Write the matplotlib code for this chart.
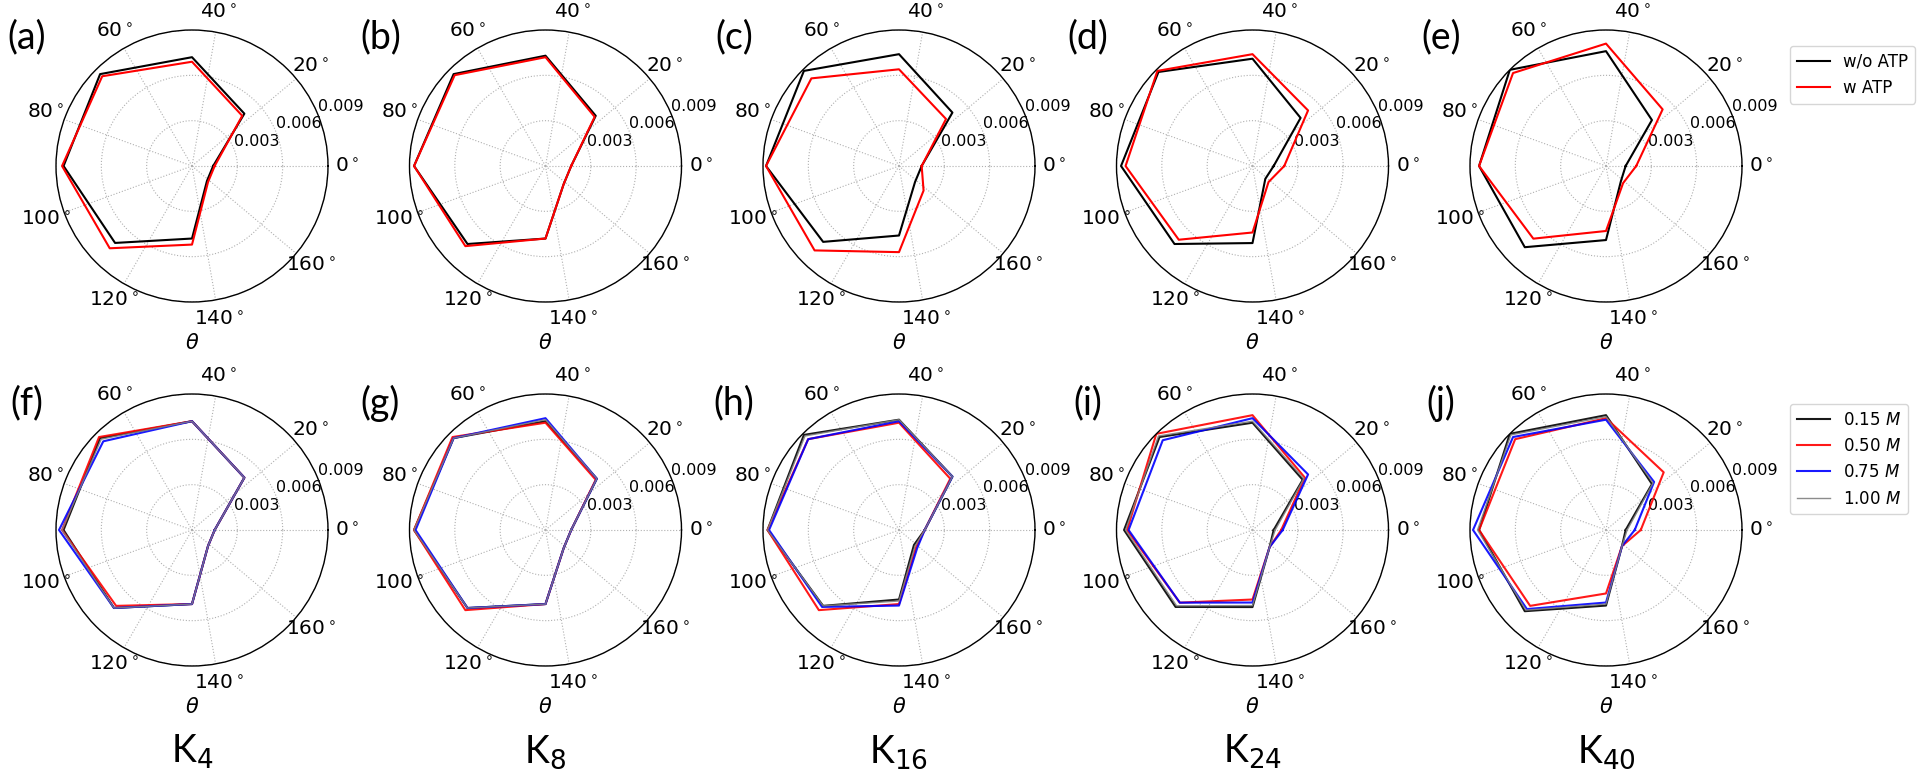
import numpy as np
import matplotlib
matplotlib.use("Agg")
import matplotlib.pyplot as plt

# ---------------- data ----------------
theta_deg = [0, 22.5, 45, 67.5, 90, 112.5, 135, 157.5]
tick_deg = [0, 20, 40, 60, 80, 100, 120, 140, 160]
r_ticks = [0.003, 0.006, 0.009]

top_series = ["w/o ATP", "w ATP"]
bottom_series = ["0.15 $M$", "0.50 $M$", "0.75 $M$", "1.00 $M$"]
panel_top = ["(a)", "(b)", "(c)", "(d)", "(e)"]
panel_bottom = ["(f)", "(g)", "(h)", "(i)", "(j)"]
col_names = ["K$_{4}$", "K$_{8}$", "K$_{16}$", "K$_{24}$", "K$_{40}$"]

a_wo = [0.0014, 0.0049, 0.0072, 0.0086, 0.0085, 0.0072, 0.0048, 0.0014]
a_w = [0.0015, 0.0047, 0.0069, 0.0084, 0.0086, 0.0077, 0.0052, 0.0015]
b_wo = [0.0017, 0.0047, 0.0073, 0.0086, 0.0087, 0.0073, 0.0048, 0.0017]
b_w = [0.0017, 0.0046, 0.0072, 0.0085, 0.0087, 0.0075, 0.0048, 0.0017]
c_wo = [0.0015, 0.0050, 0.0074, 0.0089, 0.0088, 0.0071, 0.0046, 0.0015]
c_w = [0.0015, 0.0044, 0.0064, 0.0082, 0.0088, 0.0079, 0.0057, 0.0023]
d_wo = [0.0014, 0.0045, 0.0071, 0.0088, 0.0087, 0.0073, 0.0051, 0.0012]
d_w = [0.0021, 0.0052, 0.0074, 0.0089, 0.0084, 0.0069, 0.0044, 0.0015]
e_wo = [0.0013, 0.0043, 0.0076, 0.0090, 0.0084, 0.0076, 0.0049, 0.0014]
e_w = [0.0020, 0.0053, 0.0081, 0.0087, 0.0084, 0.0068, 0.0043, 0.0016]

f_015 = [0.0015, 0.0049, 0.0072, 0.0086, 0.0085, 0.0073, 0.0049, 0.0015]
f_050 = [0.0015, 0.0049, 0.0072, 0.0087, 0.0086, 0.0071, 0.0049, 0.0015]
f_075 = [0.0015, 0.0049, 0.0072, 0.0083, 0.0088, 0.0073, 0.0049, 0.0015]
f_100 = [0.0015, 0.0049, 0.0072, 0.0085, 0.0086, 0.0073, 0.0049, 0.0015]

g_015 = [0.0017, 0.0048, 0.0072, 0.0086, 0.0087, 0.0073, 0.0049, 0.0017]
g_050 = [0.0017, 0.0047, 0.0071, 0.0087, 0.0087, 0.0075, 0.0049, 0.0017]
g_075 = [0.0017, 0.0048, 0.0074, 0.0086, 0.0086, 0.0073, 0.0049, 0.0017]
g_100 = [0.0017, 0.0048, 0.0073, 0.0086, 0.0087, 0.0073, 0.0049, 0.0017]

h_015 = [0.0017, 0.0050, 0.0073, 0.0089, 0.0087, 0.0071, 0.0046, 0.0014]
h_050 = [0.0017, 0.0048, 0.0071, 0.0085, 0.0087, 0.0075, 0.0049, 0.0016]
h_075 = [0.0017, 0.0050, 0.0072, 0.0085, 0.0086, 0.0072, 0.0050, 0.0017]
h_100 = [0.0017, 0.0050, 0.0073, 0.0088, 0.0087, 0.0071, 0.0047, 0.0015]

i_015 = [0.0014, 0.0047, 0.0071, 0.0087, 0.0085, 0.0072, 0.0051, 0.0016]
i_050 = [0.0019, 0.0049, 0.0076, 0.0090, 0.0083, 0.0068, 0.0046, 0.0016]
i_075 = [0.0020, 0.0052, 0.0074, 0.0084, 0.0082, 0.0068, 0.0048, 0.0016]
i_100 = [0.0015, 0.0048, 0.0072, 0.0088, 0.0084, 0.0071, 0.0050, 0.0016]

j_015 = [0.0013, 0.0043, 0.0076, 0.0090, 0.0084, 0.0076, 0.0050, 0.0015]
j_050 = [0.0023, 0.0054, 0.0074, 0.0085, 0.0084, 0.0071, 0.0042, 0.0015]
j_075 = [0.0019, 0.0045, 0.0073, 0.0087, 0.0088, 0.0074, 0.0048, 0.0015]
j_100 = [0.0014, 0.0044, 0.0075, 0.0089, 0.0085, 0.0075, 0.0049, 0.0015]

top_data = [[a_wo, a_w], [b_wo, b_w], [c_wo, c_w], [d_wo, d_w], [e_wo, e_w]]
bottom_data = [[f_015, f_050, f_075, f_100], [g_015, g_050, g_075, g_100],
               [h_015, h_050, h_075, h_100], [i_015, i_050, i_075, i_100],
               [j_015, j_050, j_075, j_100]]

# ---------------- styling ----------------
top_colors = ["black", "red"]
bottom_colors = ["black", "red", "blue", "grey"]
bottom_lw = [1.5, 1.5, 1.5, 1.0]

W, H = 1920, 779
fig = plt.figure(figsize=(W / 100, H / 100), dpi=100)

cxs = [192, 545.5, 899, 1252.5, 1606]
cys = [166, 530]
R = 136

label_font = "Lato"

th = np.deg2rad(2 * np.array(theta_deg + [theta_deg[0]]))


def setup(ax):
    ax.set_thetagrids([2 * t for t in tick_deg],
                      [r"$%d^\circ$" % t for t in tick_deg], fontsize=14.5)
    ax.set_rlim(0, 0.009)
    ax.set_rticks(r_ticks)
    ax.set_yticklabels(["%.3f" % v for v in r_ticks], fontsize=11.5)
    ax.set_rlabel_position(22.5)
    ax.grid(True, linestyle=":", color="#b0b0b0", linewidth=0.8)
    ax.spines["polar"].set_linewidth(1.0)
    ax.set_xlabel(r"$\theta$", fontsize=15, labelpad=3)


def make_ax(cx, cy):
    rect = [(cx - R) / W, 1 - (cy + R) / H, 2 * R / W, 2 * R / H]
    return fig.add_axes(rect, projection="polar")


top_axes = []
for k in range(5):
    ax = make_ax(cxs[k], cys[0])
    setup(ax)
    for s, vals in enumerate(top_data[k]):
        ax.plot(th, vals + [vals[0]], color=top_colors[s], lw=1.5,
                label=top_series[s])
    top_axes.append(ax)

bottom_axes = []
for k in range(5):
    ax = make_ax(cxs[k], cys[1])
    setup(ax)
    for s, vals in enumerate(bottom_data[k]):
        ax.plot(th, vals + [vals[0]], color=bottom_colors[s], lw=bottom_lw[s],
                label=bottom_series[s], alpha=0.9)
    bottom_axes.append(ax)

# legends
h, l = top_axes[-1].get_legend_handles_labels()
fig.legend(h, l, loc="upper left", bbox_to_anchor=(1790 / W, 1 - 46 / H),
           bbox_transform=fig.transFigure, fontsize=12, borderaxespad=0,
           frameon=True, fancybox=True)
h, l = bottom_axes[-1].get_legend_handles_labels()
fig.legend(h, l, loc="upper left", bbox_to_anchor=(1790 / W, 1 - 404 / H),
           bbox_transform=fig.transFigure, fontsize=12, borderaxespad=0,
           frameon=True, fancybox=True)

# panel letters
for k in range(5):
    x = cxs[k] - 165
    fig.text(x / W, 1 - 37 / H, panel_top[k], fontsize=27, family=label_font,
             ha="center", va="center")
    fig.text(x / W, 1 - 403 / H, panel_bottom[k], fontsize=27, family=label_font,
             ha="center", va="center")
    fig.text(cxs[k] / W, 1 - 752 / H, col_names[k], fontsize=27,
             family=label_font, ha="center", va="center")

fig.savefig("out.png", dpi=100)
